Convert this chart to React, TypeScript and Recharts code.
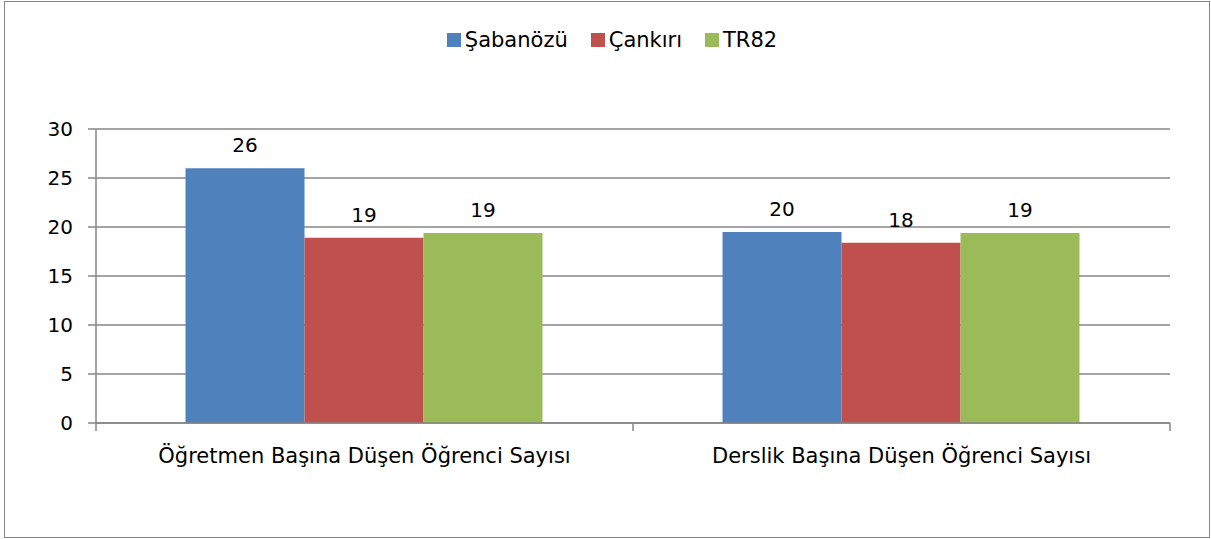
import React from 'react';
import { BarChart, Bar, XAxis, YAxis, CartesianGrid, Legend, LabelList } from 'recharts';

const categories = ['Öğretmen Başına Düşen Öğrenci Sayısı', 'Derslik Başına Düşen Öğrenci Sayısı'];
const sabanozu = [26.0, 19.5];
const cankiri = [18.9, 18.4];
const tr82 = [19.4, 19.4];
const yTicks = [0, 5, 10, 15, 20, 25, 30];

const seriesNames = ['Şabanözü', 'Çankırı', 'TR82'];
const seriesKeys = ['sabanozu', 'cankiri', 'tr82'];
const seriesColors = ['#4F81BD', '#C0504D', '#9BBB59'];

const data = categories.map((c, i) => ({
  name: c,
  sabanozu: sabanozu[i],
  cankiri: cankiri[i],
  tr82: tr82[i],
}));

const FONT = '"DejaVu Sans", sans-serif';
const AXIS = '#868686';

const CatTick = (props: any) => {
  const { x, y, payload, index, visibleTicksCount } = props;
  const off = payload && payload.offset ? payload.offset : 0;
  const last = index === (visibleTicksCount ?? categories.length) - 1;
  return (
    <g>
      <line x1={x - off} y1={y} x2={x - off} y2={y + 8} stroke={AXIS} strokeWidth={1.5} />
      {last && <line x1={x + off} y1={y} x2={x + off} y2={y + 8} stroke={AXIS} strokeWidth={1.5} />}
      <text x={x} y={y + 40} textAnchor="middle" fontSize={21} fontFamily={FONT} fill="#000">
        {payload.value}
      </text>
    </g>
  );
};

const LegendContent = () => (
  <div style={{ display: 'flex', justifyContent: 'center', alignItems: 'center', fontFamily: FONT, fontSize: 21, color: '#000', height: 24, paddingLeft: 10 }}>
    {seriesNames.map((n, i) => (
      <div key={n} style={{ display: 'flex', alignItems: 'center', marginRight: i < seriesNames.length - 1 ? 23 : 0 }}>
        <span style={{ display: 'inline-block', width: 14, height: 14, background: seriesColors[i], marginRight: 4 }} />
        <span>{n}</span>
      </div>
    ))}
  </div>
);

export default function App() {
  return (
    <div
      style={{
        position: 'absolute',
        left: 4,
        top: 1,
        width: 1206,
        height: 537,
        border: `1px solid ${AXIS}`,
        boxSizing: 'border-box',
        background: '#fff',
      }}
    >
      <BarChart
        width={1204}
        height={535}
        data={data}
        margin={{ top: 103, right: 39, bottom: 54, left: 0 }}
        barCategoryGap="16.67%"
        barGap={0}
      >
        <CartesianGrid horizontal vertical={false} stroke={AXIS} strokeWidth={1.5} />
        <XAxis
          dataKey="name"
          height={60}
          axisLine={{ stroke: AXIS, strokeWidth: 1.5 }}
          tickLine={false}
          tickSize={0}
          tickMargin={0}
          interval={0}
          tick={<CatTick />}
        />
        <YAxis
          width={91}
          domain={[0, 30]}
          ticks={yTicks}
          interval={0}
          axisLine={{ stroke: AXIS, strokeWidth: 1.5 }}
          tickLine={{ stroke: AXIS, strokeWidth: 1.5 }}
          tickSize={8}
          tickMargin={15}
          tick={{ fontSize: 20, fontFamily: FONT, fill: '#000' }}
        />
        <Legend
          verticalAlign="top"
          content={<LegendContent />}
          wrapperStyle={{ position: 'absolute', top: 26, left: 0, width: 1204 }}
        />
        {seriesKeys.map((k, i) => (
          <Bar key={k} dataKey={k} name={seriesNames[i]} fill={seriesColors[i]} isAnimationActive={false}>
            <LabelList
              dataKey={k}
              position="top"
              offset={16}
              formatter={(v: any) => Math.round(Number(v))}
              style={{ fontSize: 20, fontFamily: FONT, fill: '#000' }}
            />
          </Bar>
        ))}
      </BarChart>
    </div>
  );
}
